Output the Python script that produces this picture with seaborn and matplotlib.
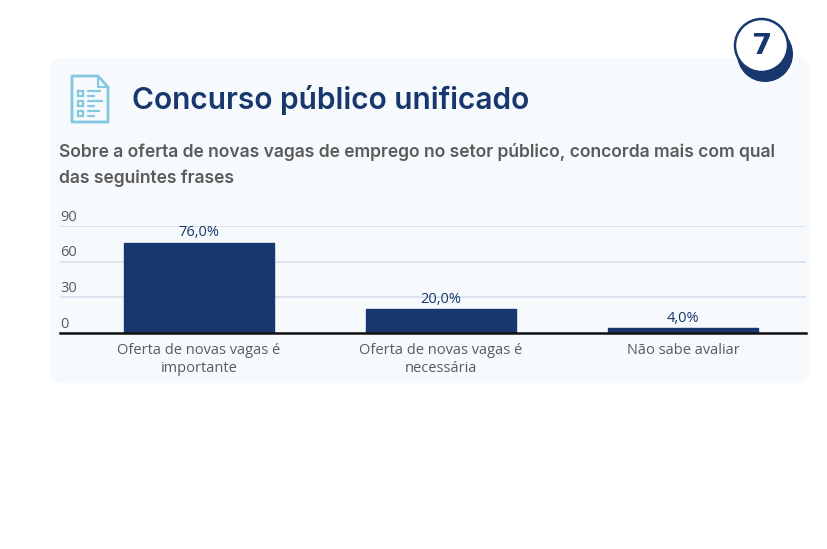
#!/usr/bin/env python3
import matplotlib
matplotlib.use('Agg')
import matplotlib.pyplot as plt
from matplotlib.patches import FancyBboxPatch, Circle, Polygon, Rectangle
import pandas as pd
import seaborn as sns

# Data
categories = ['Oferta de novas vagas é\nimportante', 'Oferta de novas vagas é\nnecessária', 'Não sabe avaliar']
values = [76.0, 20.0, 4.0]
bar_labels = ['76,0%', '20,0%', '4,0%']
y_ticks = [0, 30, 60, 90]

title = 'Concurso público unificado'
subtitle = ['Sobre a oferta de novas vagas de emprego no setor público, concorda mais com qual',
            'das seguintes frases']

NAVY = '#17376e'
GREY = '#5b5b5b'
ICON = '#85c6e3'
W, H = 828, 549

sns.set_theme(style='white')
plt.rcParams['font.family'] = ['Open Sans', 'DejaVu Sans']

fig = plt.figure(figsize=(W / 100, H / 100), dpi=100, facecolor='white')

# Background layer in pixel coordinates
bg = fig.add_axes([0, 0, 1, 1], zorder=0)
bg.set_xlim(0, W)
bg.set_ylim(H, 0)
bg.axis('off')
bg.add_patch(FancyBboxPatch((50, 58), 759, 325, boxstyle='round,pad=0,rounding_size=10',
                            fc='#f6fafc', ec='none', lw=0))

# Badge
bg.add_patch(Circle((765, 54), 28, fc=NAVY, ec='none'))
bg.add_patch(Circle((761.5, 45.5), 26.5, fc='white', ec=NAVY, lw=1.8))
bg.text(762, 46.5, '7', ha='center', va='center', fontsize=21, fontweight='bold',
        color=NAVY, family='DejaVu Sans')

# Document icon
bg.add_patch(Polygon([(72, 76), (98, 76), (108, 87), (108, 122), (72, 122)], closed=True,
                     fc='none', ec=ICON, lw=2, joinstyle='round'))
bg.plot([98, 98, 108], [76, 87, 87], color=ICON, lw=1.5)
for iy, x_end in zip([93, 103, 113], [100, 102, 99]):
    bg.add_patch(Rectangle((78, iy - 2.5), 5, 5, fc='none', ec=ICON, lw=1.6))
    bg.plot([88, x_end], [iy - 2, iy - 2], color=ICON, lw=1.6)
    bg.plot([88, 94], [iy + 2.5, iy + 2.5], color=ICON, lw=1.6)

bg.text(132, 100, title, ha='left', va='center', fontsize=21.5, fontweight='semibold',
        color=NAVY, family='Inter')
bg.text(59, 152, subtitle[0], ha='left', va='center', fontsize=12.57,
        fontweight='semibold', color=GREY, family='Inter')
bg.text(59, 178.5, subtitle[1], ha='left', va='center', fontsize=12.57,
        fontweight='semibold', color=GREY, family='Inter')

# Chart: x from 60 to 806 px, y 0 at 333 px and 90 at 226 px
ax = fig.add_axes([60 / W, 1 - 333 / H, 746 / W, 107 / H], zorder=1)
ax.patch.set_alpha(0)
df = pd.DataFrame({'categoria': categories, 'valor': values})
sns.barplot(data=df, x='categoria', y='valor', color=NAVY, width=0.62, saturation=1, ax=ax,
            zorder=3, edgecolor=NAVY, linewidth=1)
ax.set_xlim(-0.574, 2.508)
ax.set_ylim(0, 90)
ax.set_xlabel('')
ax.set_ylabel('')

ax.set_yticks(y_ticks)
ax.set_yticklabels([])
ax.yaxis.grid(True, color='#d6dfec', lw=1.2)
ax.set_axisbelow(True)
ax.tick_params(axis='y', length=0)
ax.tick_params(axis='x', length=0, pad=7, labelsize=10.5, labelcolor=GREY)
for lab in ax.get_xticklabels():
    lab.set_linespacing(1.32)

# y labels sit above their gridlines, at the left edge
for t in y_ticks:
    ax.annotate(str(t), (0, t), xycoords=('axes fraction', 'data'), xytext=(0, 1 if t else 0.5),
                textcoords='offset points', ha='left', va='bottom', fontsize=10.5, color=GREY)

for bar, lab in zip(ax.patches, bar_labels):
    ax.annotate(lab, (bar.get_x() + bar.get_width() / 2, bar.get_height()), xytext=(0, 1.7),
                textcoords='offset points', ha='center', va='bottom', fontsize=10.5, color=NAVY,
                annotation_clip=False)

sns.despine(ax=ax, left=True, top=True, right=True)
ax.spines['bottom'].set_color('#111111')
ax.spines['bottom'].set_linewidth(1.8)
ax.spines['bottom'].set_zorder(5)

fig.savefig('out.png', dpi=100)
